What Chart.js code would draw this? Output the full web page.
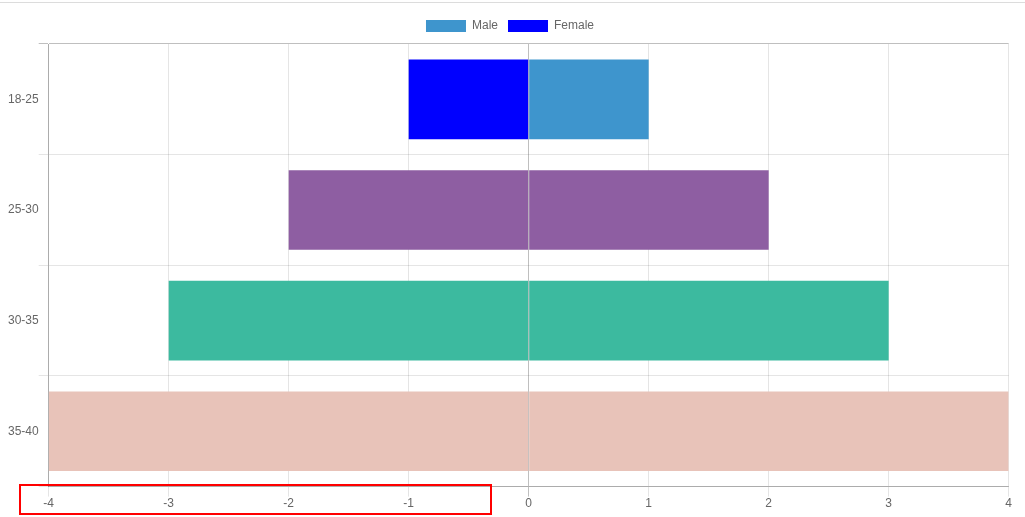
<!DOCTYPE html>
<html>
<head>
<meta charset="utf-8">
<script src="https://cdn.jsdelivr.net/npm/chart.js@4/dist/chart.umd.min.js"></script>
<style>
  body { margin: 0; background: #fff; }
  .topline { position: absolute; left: 0; top: 2px; width: 1025px; height: 1px; background: #dcdcdc; }
  .wrap { position: absolute; left: 0; top: 10px; width: 1012px; height: 501px; }
  .mark { position: absolute; left: 19px; top: 484px; width: 473px; height: 31px; box-sizing: border-box; border: 2px solid #ff0000; }
</style>
</head>
<body>
<div class="topline"></div>
<div class="wrap"><canvas id="myChart"></canvas></div>
<div class="mark"></div>
<script>
const ageGroups = ["18-25", "25-30", "30-35", "35-40"];
const maleValues = [1, 2, 3, 4];
const femaleValues = [-1, -2, -3, -4];
const maleColors = ["#3e95cd", "#8e5ea2", "#3cba9f", "#e8c3b9"];
const femaleColors = ["#0000ff", "#8e5ea2", "#3cba9f", "#e8c3b9"];
const xTicks = [-4, -3, -2, -1, 0, 1, 2, 3, 4];

Chart.defaults.font.family = "'Liberation Sans', Arial, sans-serif";
Chart.defaults.font.size = 12;
Chart.defaults.color = "#666";

const GRID = "rgba(0,0,0,0.1)";
const ZERO = "rgba(0,0,0,0.25)";

// a little more room under the legend
const legendGap = {
  id: "legendGap",
  beforeInit(chart) {
    const fit = chart.legend.fit;
    chart.legend.fit = function () {
      fit.bind(chart.legend)();
      this.height += 2;
    };
  },
};

const data = {
  labels: ageGroups,
  datasets: [
    {
      label: "Male",
      backgroundColor: maleColors,
      data: maleValues,
      categoryPercentage: 0.8,
      barPercentage: 0.9,
    },
    {
      label: "Female",
      backgroundColor: femaleColors,
      data: femaleValues,
      categoryPercentage: 0.8,
      barPercentage: 0.9,
    },
  ],
};

const config = {
  type: "bar",
  data: data,
  plugins: [legendGap],
  options: {
    indexAxis: "y",
    responsive: true,
    maintainAspectRatio: false,
    animation: false,
    layout: {
      padding: { left: 8, right: 0, top: 0, bottom: 0 },
    },
    plugins: {
      legend: {
        labels: {
          boxWidth: 40,
          boxHeight: 12,
          padding: 10,
        },
      },
      tooltip: { enabled: false },
    },
    scales: {
      x: {
        stacked: true,
        min: xTicks[0],
        max: xTicks[xTicks.length - 1],
        afterBuildTicks: (axis) => {
          axis.ticks = xTicks.map((v) => ({ value: v }));
        },
        grid: {
          color: (ctx) => (ctx.tick && ctx.tick.value === 0 ? ZERO : GRID),
          tickLength: 10,
        },
        border: { color: ZERO },
        ticks: { padding: 0 },
      },
      y: {
        stacked: true,
        grid: {
          color: (ctx) => (ctx.index === 0 ? ZERO : GRID),
          tickLength: 10,
          offset: true,
        },
        border: { color: ZERO },
        ticks: { padding: 0 },
      },
    },
  },
};

new Chart(document.getElementById("myChart").getContext("2d"), config);
</script>
</body>
</html>
